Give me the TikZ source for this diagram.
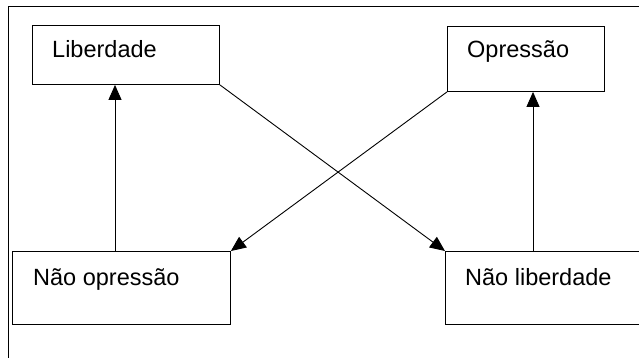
\documentclass[tikz,border=0pt]{standalone}
\usepackage{fontspec}
\setmainfont{Liberation Sans}
\usetikzlibrary{arrows.meta,calc}
\begin{document}
\begin{tikzpicture}[x=1pt,y=-1pt,
  box/.style={draw=black,line width=0.9pt,rectangle,inner sep=0pt,anchor=north west},
  lbl/.style={anchor=base west,inner sep=0pt,font=\fontsize{23.5}{28}\selectfont},
  conn/.style={draw=black,line width=0.9pt,-{Triangle[length=15pt,width=13pt]}},
  frame/.style={draw=black,line width=1pt}]
\useasboundingbox (0,0) rectangle (639,358);
\clip (0,0) rectangle (639,358);
\fill[white] (0,0) rectangle (639,358);
\draw[frame] (8,370) -- (8,7) -- (660,7);
\node[box,minimum width=187pt,minimum height=59pt] (lib) at (32,25) {};
\node[box,minimum width=157pt,minimum height=65pt] (opr) at (447,26) {};
\node[box,minimum width=218pt,minimum height=73pt] (nop) at (12,251) {};
\node[box,minimum width=230pt,minimum height=73pt] (nlib) at (445,251) {};
\node[lbl] (libt) at (52,58) {Liberdade};
\node[lbl] (oprt) at (467,58) {Opressão};
\node[lbl] (nopt) at (33,285) {Não opressão};
\node[lbl] (nlibt) at (465,285) {Não liberdade};
\draw[conn] (115,0 |- nop.north) -- (115,0 |- lib.south);
\draw[conn] (533,0 |- nlib.north) -- (533,0 |- opr.south);
\draw[conn] (lib.south east) -- (nlib.north west);
\draw[conn] (opr.south west) -- (nop.north east);
\end{tikzpicture}
\end{document}
